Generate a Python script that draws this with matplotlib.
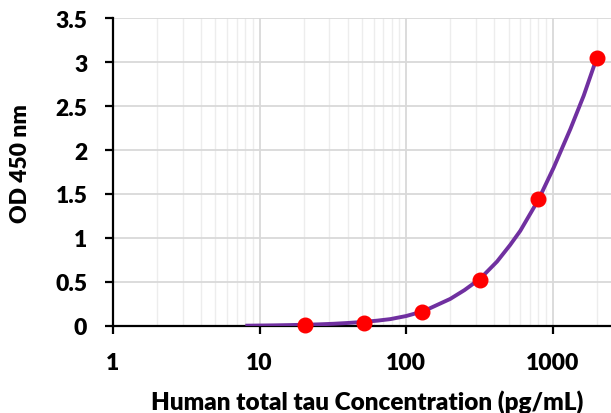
import matplotlib
matplotlib.use("Agg")
import matplotlib.pyplot as plt
from matplotlib.ticker import FixedLocator, NullFormatter, LogLocator

plt.rcParams['font.family'] = ['Lato', 'DejaVu Sans']

# Standards (pg/mL) and measured OD
conc = [20.48, 51.2, 128, 320, 800, 2000]
od = [0.011, 0.035, 0.155, 0.522, 1.437, 3.053]

# Fitted curve
curve_x = [8, 10, 12.5, 16, 20.48, 25, 32, 40, 51.2, 64, 78, 100, 128, 146, 200,
           250, 320, 417, 513, 601, 800, 1016, 1321, 1629, 2000]
curve_y = [0.000, 0.002, 0.004, 0.007, 0.011, 0.015, 0.022, 0.031, 0.043, 0.058,
           0.075, 0.110, 0.160, 0.200, 0.305, 0.405, 0.535, 0.73, 0.92, 1.08, 1.435,
           1.80, 2.24, 2.62, 3.05]

x_ticks = [1, 10, 100, 1000]
x_tick_labels = ['1', '10', '100', '1000']
y_ticks = [0, 0.5, 1, 1.5, 2, 2.5, 3, 3.5]
y_tick_labels = ['0', '0.5', '1', '1.5', '2', '2.5', '3', '3.5']

WEIGHT = 'heavy'

fig = plt.figure(figsize=(6.11, 4.14), dpi=100)
W, H = 611, 414
ax = fig.add_axes([113 / W, 1 - 326.7 / H, (611 - 113) / W, (326.7 - 19.3) / H])

ax.set_xscale('log')
ax.set_xlim(1, 2500)
ax.set_ylim(0, 3.5)

ax.plot(curve_x, curve_y, color='#7030A0', lw=2.8, solid_capstyle='butt', zorder=3)
ax.plot(conc, od, 'o', color='#FF0000', ms=10.5, mec='#FF0000', zorder=4, clip_on=False)

ax.xaxis.set_major_locator(FixedLocator(x_ticks))
ax.set_xticklabels(x_tick_labels)
ax.xaxis.set_minor_locator(LogLocator(base=10, subs=range(2, 10), numticks=20))
ax.xaxis.set_minor_formatter(NullFormatter())
ax.set_yticks(y_ticks)
ax.set_yticklabels(y_tick_labels)

ax.grid(True, which='major', axis='both', color='#d9d9d9', lw=1.3, zorder=0)
ax.grid(True, which='minor', axis='x', color='#ededed', lw=1.0, zorder=0)
ax.set_axisbelow(True)

for s in ['top', 'right']:
    ax.spines[s].set_visible(False)
for s in ['left', 'bottom']:
    ax.spines[s].set_color('black')
    ax.spines[s].set_linewidth(1.6)

ax.tick_params(axis='both', which='major', direction='out', length=6, width=1.6,
               labelsize=16.5, color='black')
ax.tick_params(axis='y', which='major', pad=12.5)
ax.tick_params(axis='x', which='major', pad=13)
ax.tick_params(axis='x', which='minor', length=0)

for lab in ax.get_xticklabels() + ax.get_yticklabels():
    lab.set_fontweight(WEIGHT)

fig.text(367 / W, 1 - 402 / H, 'Human total tau Concentration (pg/mL)', ha='center',
         va='center', fontsize=17.5, fontweight=WEIGHT)
fig.text(21 / W, 1 - 164 / H, 'OD 450 nm', ha='center', va='center', rotation=90,
         fontsize=16.5, fontweight=WEIGHT)

fig.savefig('out.png', dpi=100)
